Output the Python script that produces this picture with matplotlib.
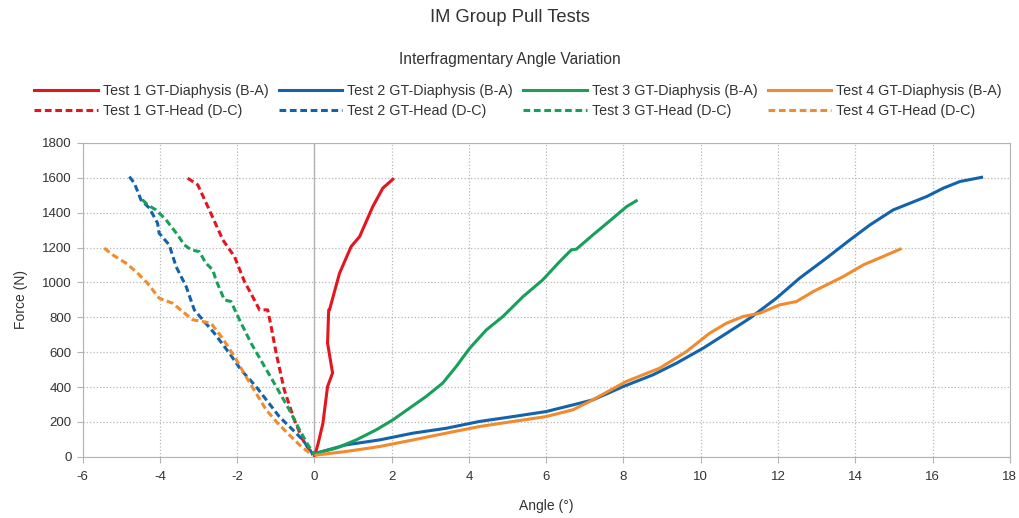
import matplotlib
matplotlib.use("Agg")
import matplotlib.pyplot as plt

plt.rcParams["font.family"] = ["Liberation Sans", "DejaVu Sans"]
plt.rcParams["axes.unicode_minus"] = False

# Test 1
t1_diaph_x = [0.0, 0.10, 0.22, 0.34, 0.47, 0.34, 0.37, 0.39, 0.65, 0.95, 1.17, 1.51, 1.77, 2.03]
t1_diaph_y = [0, 80, 193, 403, 481, 653, 843, 843, 1053, 1206, 1263, 1435, 1541, 1592]
t1_head_x = [-3.28, -3.02, -2.72, -2.37, -2.07, -1.81, -1.60, -1.42, -1.21, -1.12, -0.99, -0.78, -0.52, -0.30, -0.04]
t1_head_y = [1598, 1560, 1416, 1244, 1149, 1005, 919, 843, 843, 747, 594, 384, 212, 97, 11]

# Test 2
t2_diaph_x = [0.04, 0.82, 1.68, 2.55, 3.41, 4.27, 5.14, 6.00, 6.69, 7.21, 7.99, 8.76, 9.37, 10.06, 10.67,
              11.27, 11.96, 12.56, 13.25, 13.86, 14.38, 14.98, 15.41, 15.85, 16.28, 16.71, 17.27]
t2_diaph_y = [21, 69, 97, 136, 164, 203, 231, 260, 298, 327, 403, 470, 537, 623, 709,
              795, 910, 1025, 1139, 1244, 1330, 1416, 1454, 1493, 1541, 1579, 1603]
t2_head_x = [-4.79, -4.66, -4.49, -4.27, -4.06, -4.02, -3.76, -3.58, -3.32, -3.11, -2.89, -2.59, -2.20,
             -1.90, -1.51, -1.21, -0.91, -0.56, -0.30, -0.04]
t2_head_y = [1607, 1569, 1474, 1426, 1340, 1283, 1216, 1091, 977, 843, 786, 709, 594,
             499, 403, 317, 231, 155, 97, 15]

# Test 3
t3_diaph_x = [0.04, 0.56, 1.08, 1.60, 2.03, 2.46, 2.89, 3.32, 3.67, 4.02, 4.45, 4.88, 5.40, 5.91,
              6.35, 6.65, 6.78, 7.21, 7.73, 8.08, 8.33]
t3_diaph_y = [21, 50, 97, 155, 212, 279, 346, 423, 518, 623, 728, 805, 919, 1015,
              1120, 1187, 1191, 1273, 1369, 1435, 1468]
t3_head_x = [-4.45, -4.32, -4.10, -3.84, -3.54, -3.37, -3.19, -2.98, -2.81, -2.63, -2.55, -2.33, -2.16,
             -1.94, -1.64, -1.34, -0.99, -0.65, -0.43, -0.22, 0.0]
t3_head_y = [1474, 1445, 1416, 1359, 1273, 1216, 1187, 1177, 1111, 1072, 1015, 900, 891,
             786, 652, 537, 403, 270, 174, 88, 10]

# Test 4
t4_diaph_x = [0.04, 0.82, 1.68, 2.55, 3.41, 4.27, 5.14, 6.00, 6.69, 7.12, 8.07, 8.94, 9.63, 10.23,
              10.67, 11.10, 11.53, 12.05, 12.48, 12.91, 13.69, 14.21, 14.72, 15.16]
t4_diaph_y = [10, 31, 59, 97, 136, 174, 203, 231, 270, 317, 432, 509, 604, 709,
              767, 805, 824, 872, 891, 948, 1034, 1101, 1149, 1191]
t4_head_x = [-5.44, -5.22, -4.88, -4.62, -4.32, -4.02, -3.67, -3.41, -3.15, -2.89, -2.68, -2.38, -2.07,
             -1.77, -1.51, -1.25, -0.95, -0.65, -0.34, -0.08]
t4_head_y = [1197, 1158, 1111, 1063, 996, 910, 881, 833, 786, 776, 767, 681, 575,
             460, 365, 270, 193, 126, 59, 15]

series = [
    ("Test 1 GT-Diaphysis (B-A)", t1_diaph_x, t1_diaph_y, "#e3161f", "-"),
    ("Test 1 GT-Head (D-C)", t1_head_x, t1_head_y, "#e3161f", "--"),
    ("Test 2 GT-Diaphysis (B-A)", t2_diaph_x, t2_diaph_y, "#1262ad", "-"),
    ("Test 2 GT-Head (D-C)", t2_head_x, t2_head_y, "#1262ad", "--"),
    ("Test 3 GT-Diaphysis (B-A)", t3_diaph_x, t3_diaph_y, "#18a05a", "-"),
    ("Test 3 GT-Head (D-C)", t3_head_x, t3_head_y, "#18a05a", "--"),
    ("Test 4 GT-Diaphysis (B-A)", t4_diaph_x, t4_diaph_y, "#f28a2e", "-"),
    ("Test 4 GT-Head (D-C)", t4_head_x, t4_head_y, "#f28a2e", "--"),
]

fig = plt.figure(figsize=(10.2, 5.18), dpi=100)
ax = fig.add_axes([0.081, 0.118, 0.909, 0.606])

handles = []
for label, xs, ys, color, ls in series:
    if ls == "--":
        h, = ax.plot(xs, ys, color=color, lw=2.2, linestyle=(0, (2.2, 1.2)), label=label)
    else:
        h, = ax.plot(xs, ys, color=color, lw=2.2, label=label)
    handles.append(h)

ax.set_xlim(-6, 18)
ax.set_ylim(0, 1800)
ax.set_xticks(range(-6, 19, 2))
ax.set_yticks(range(0, 1801, 200))
ax.grid(True, color="#b8b8b8", linestyle=":", linewidth=0.9)
ax.set_axisbelow(True)
ax.axvline(0, color="#b3b3b3", lw=1.0, zorder=1)
for sp in ax.spines.values():
    sp.set_color("#b3b3b3")
ax.tick_params(colors="#b3b3b3", labelcolor="#333333", labelsize=9.5, length=4.5)
ax.tick_params(axis="x", pad=6)

ax.set_xlabel("Angle (°)", fontsize=10, color="#333333", labelpad=11)
ax.set_ylabel("Force (N)", fontsize=10, color="#333333", labelpad=10)

fig.text(0.5, 0.966, "IM Group Pull Tests", ha="center", va="center", fontsize=13.2, color="#333333")
fig.text(0.5, 0.886, "Interfragmentary Angle Variation", ha="center", va="center", fontsize=11.2, color="#333333")

fig.legend(handles=handles, loc="center", bbox_to_anchor=(0.508, 0.805), ncol=4, frameon=False,
           fontsize=10.3, handlelength=4.45, handletextpad=0.35, columnspacing=0.7,
           labelspacing=0.45, labelcolor="#333333")

fig.savefig("out.png", dpi=100)
